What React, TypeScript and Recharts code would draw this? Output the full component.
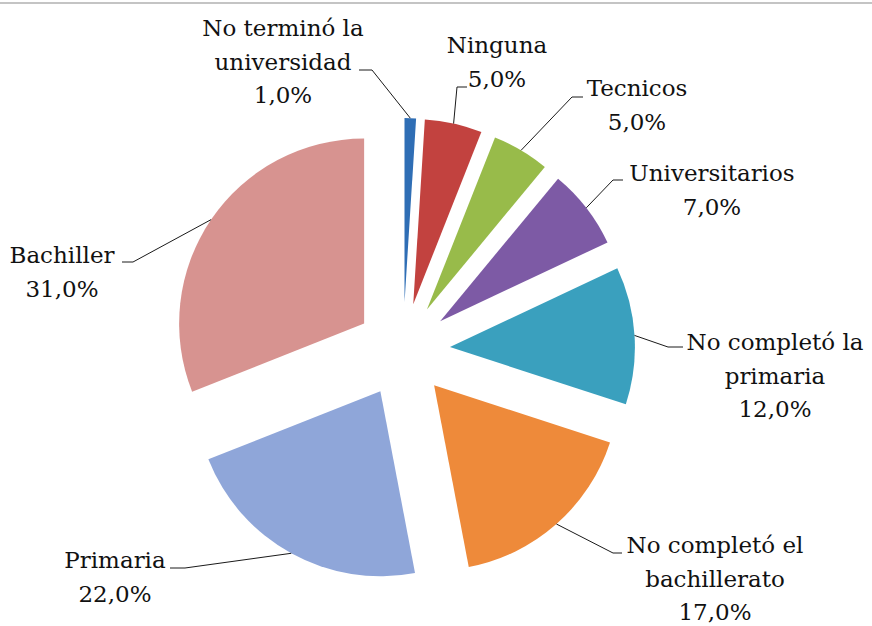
import { PieChart, Pie, Sector, Cell } from 'recharts';

const categories = [
  'No terminó la\nuniversidad',
  'Ninguna',
  'Tecnicos',
  'Universitarios',
  'No completó la\nprimaria',
  'No completó el\nbachillerato',
  'Primaria',
  'Bachiller',
];
const shares = [1, 5, 5, 7, 12, 17, 22, 31];

const COLORS = ['#2F6EB5', '#C2423F', '#98BB4A', '#7D5AA5', '#3AA0BE', '#EE8A3A', '#8FA6D9', '#D79390'];

// where each label's text sits and where its leader line leaves the text
const LABEL_LAYOUT = [
  { x: 283, y: 36, sx: 359, sy: 70, run: 13 },
  { x: 497, y: 53, sx: 467, sy: 87, run: -10 },
  { x: 637, y: 96, sx: 583, sy: 97, run: -11 },
  { x: 712, y: 181, sx: 623, sy: 180, run: -10 },
  { x: 775, y: 350, sx: 683, sy: 347, run: -15 },
  { x: 715, y: 553, sx: 622, sy: 553, run: -9 },
  { x: 115, y: 568, sx: 170, sy: 568, run: 15 },
  { x: 62, y: 263, sx: 122, sy: 262, run: 11 },
];

const EXPLODE = 47;
const RAD = Math.PI / 180;
const FONT = '"DejaVu Serif", serif';
const FONT_SIZE = 23;
const LINE_H = 33.5;

const data = categories.map((name, i) => ({ name, value: shares[i] }));

const fmt = (v: number) => `${v.toFixed(1).replace('.', ',')}%`;

function ExplodedSlice(props: any) {
  const { cx, cy, innerRadius, outerRadius, startAngle, endAngle, fill } = props;
  const mid = props.midAngle ?? (startAngle + endAngle) / 2;
  const dx = EXPLODE * Math.cos(-mid * RAD);
  const dy = EXPLODE * Math.sin(-mid * RAD);
  return (
    <Sector
      cx={cx + dx}
      cy={cy + dy}
      innerRadius={innerRadius}
      outerRadius={outerRadius}
      startAngle={startAngle}
      endAngle={endAngle}
      fill={fill}
      stroke="none"
    />
  );
}

function SliceLabel(props: any) {
  const { cx, cy, midAngle, outerRadius, index, value } = props;
  const L = LABEL_LAYOUT[index];
  const r = outerRadius + EXPLODE;
  const px = cx + r * Math.cos(-midAngle * RAD);
  const py = cy + r * Math.sin(-midAngle * RAD);
  const lines = [...categories[index].split('\n'), fmt(value)];
  return (
    <g>
      <polyline
        points={`${L.sx},${L.sy} ${L.sx + L.run},${L.sy} ${px},${py}`}
        fill="none"
        stroke="#1a1a1a"
        strokeWidth={1}
      />
      <text x={L.x} y={L.y} textAnchor="middle" fontFamily={FONT} fontSize={FONT_SIZE} fill="#111">
        {lines.map((t, k) => (
          <tspan key={k} x={L.x} dy={k === 0 ? 0 : LINE_H}>
            {t}
          </tspan>
        ))}
      </text>
    </g>
  );
}

export default function App() {
  return (
    <div style={{ position: 'absolute', left: 0, top: 0, width: 872, height: 626, background: '#fff' }}>
      <div style={{ position: 'absolute', left: 0, top: 2, width: 872, height: 2, background: '#c4c4c4' }} />
      <PieChart width={872} height={626} margin={{ top: 0, right: 0, bottom: 0, left: 0 }}>
        <Pie
          data={data}
          dataKey="value"
          nameKey="name"
          cx={403}
          cy={350}
          outerRadius={185}
          startAngle={90}
          endAngle={-270}
          stroke="none"
          isAnimationActive={false}
          shape={ExplodedSlice}
          inactiveShape={ExplodedSlice}
          activeShape={ExplodedSlice}
          label={SliceLabel}
          labelLine={false}
        >
          {data.map((d, i) => (
            <Cell key={d.name} fill={COLORS[i]} />
          ))}
        </Pie>
      </PieChart>
    </div>
  );
}
